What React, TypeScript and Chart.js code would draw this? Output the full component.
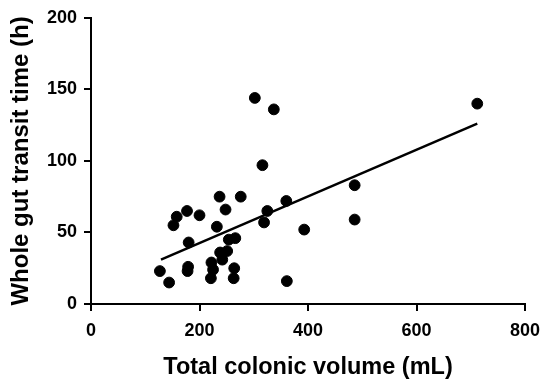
import React, { useEffect, useRef } from "react";
import { Chart, registerables } from "chart.js";

Chart.register(...registerables);

const volumeX = [127, 144, 152, 158, 177, 180, 179, 178, 200, 222, 225, 221, 232, 237, 238, 242, 248, 251, 254, 266, 264, 263, 276, 302, 316, 325, 319, 337, 360, 361, 393, 486, 486, 712];
const transitY = [23, 15, 55, 61, 65, 43, 26, 23, 62, 29, 24, 18, 54, 75, 36, 31, 66, 37, 45, 46, 25, 18, 75, 144, 97, 65, 57, 136, 72, 16, 52, 83, 59, 140];
const fitX = [129, 712];
const fitY = [31, 126];
const xTicks = [0, 200, 400, 600, 800];
const yTicks = [0, 50, 100, 150, 200];

const FONT = "'Liberation Sans', Arial, Helvetica, sans-serif";

export default function App() {
  const ref = useRef<HTMLCanvasElement | null>(null);
  useEffect(() => {
    if (!ref.current) return;
    const chart = new Chart(ref.current, {
      type: "scatter",
      data: {
        datasets: [
          {
            type: "scatter",
            data: volumeX.map((x, i) => ({ x, y: transitY[i] })),
            backgroundColor: "#000",
            borderColor: "#000",
            pointRadius: 5.4,
            pointHoverRadius: 5.4,
          },
          {
            type: "line",
            data: fitX.map((x, i) => ({ x, y: fitY[i] })),
            borderColor: "#000",
            borderWidth: 2.5,
            pointRadius: 0,
            fill: false,
          } as any,
        ],
      },
      options: {
        responsive: false,
        animation: false,
        layout: { padding: { top: 14, right: 25, bottom: 0, left: 0 } },
        plugins: { legend: { display: false }, tooltip: { enabled: false } },
        scales: {
          x: {
            type: "linear",
            min: 0,
            max: 800,
            afterBuildTicks: (s: any) => { s.ticks = xTicks.map((v) => ({ value: v })); },
            afterFit: (s: any) => { s.height = 83; },
            border: { display: true, color: "#000", width: 2 },
            grid: { display: true, drawOnChartArea: false, drawTicks: true, tickLength: 7, color: "#000", lineWidth: 2 },
            ticks: { color: "#000", padding: 9, font: { family: FONT, size: 18, weight: "bold" } },
            title: { display: true, text: "Total colonic volume (mL)", color: "#000", padding: { top: 0, bottom: 5 }, font: { family: FONT, size: 23.5, weight: "bold" } },
          },
          y: {
            type: "linear",
            min: 0,
            max: 200,
            afterBuildTicks: (s: any) => { s.ticks = yTicks.map((v) => ({ value: v })); },
            afterFit: (s: any) => { s.width = 91; },
            border: { display: true, color: "#000", width: 2 },
            grid: { display: true, drawOnChartArea: false, drawTicks: true, tickLength: 7, color: "#000", lineWidth: 2 },
            ticks: { color: "#000", padding: 7, font: { family: FONT, size: 18, weight: "bold" } },
            title: { display: true, text: "Whole gut transit time (h)", color: "#000", padding: { top: 7, bottom: 0 }, font: { family: FONT, size: 24, weight: "bold" } },
          },
        },
      },
    });
    return () => chart.destroy();
  }, []);
  return (
    <div style={{ position: "absolute", left: 0, top: 0, width: 550, height: 387, background: "#fff" }}>
      <canvas ref={ref} width={550} height={387} />
    </div>
  );
}
